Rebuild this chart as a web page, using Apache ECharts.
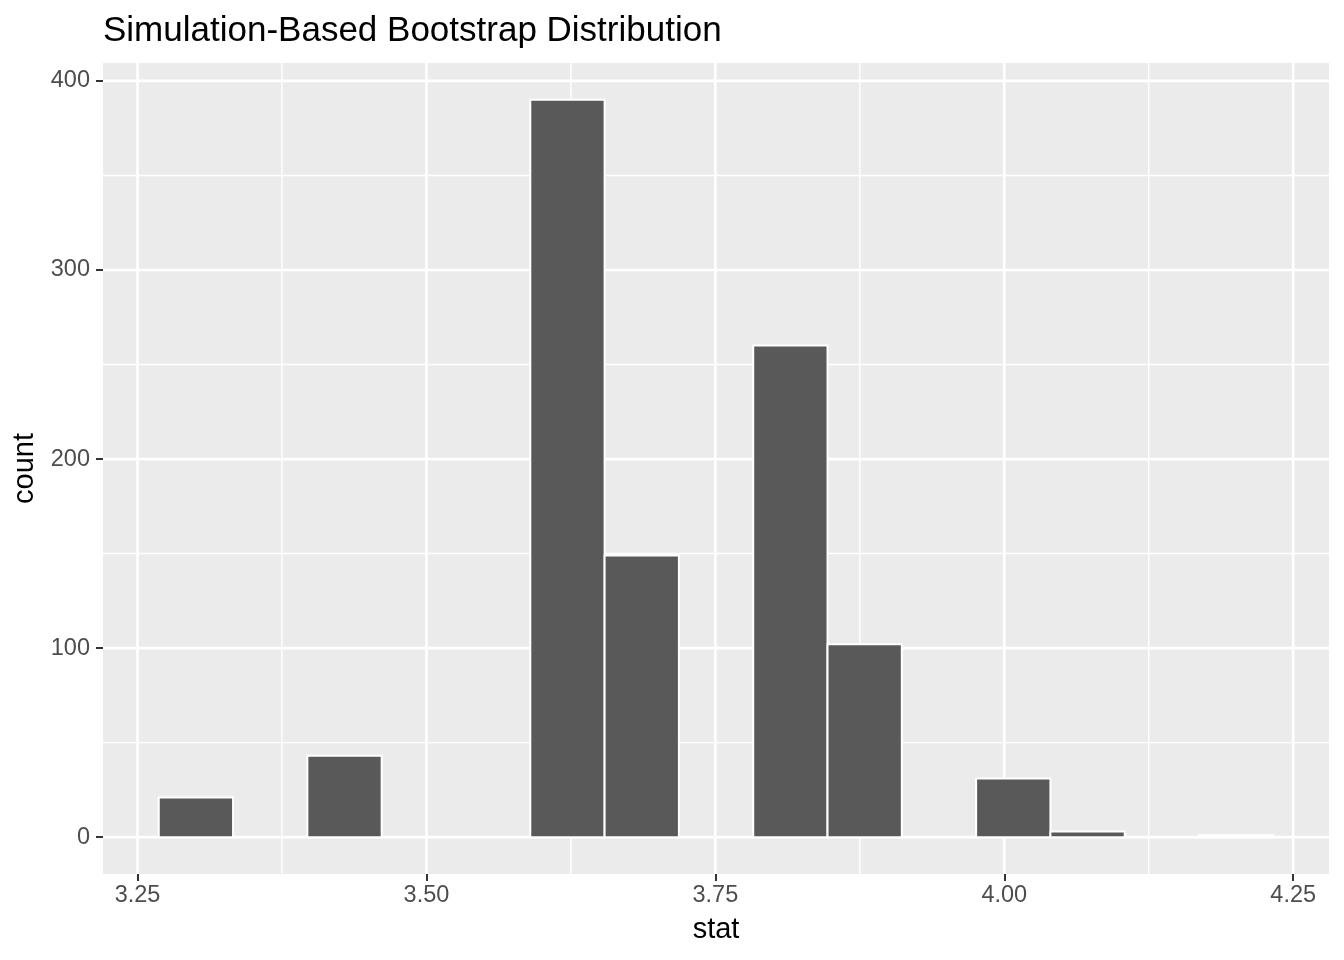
<!DOCTYPE html>
<html>
<head>
<meta charset="utf-8">
<script src="https://cdn.jsdelivr.net/npm/echarts@6/dist/echarts.min.js"></script>
<style>
  html, body { margin: 0; padding: 0; background: #ffffff; }
  #chart { width: 1344px; height: 960px; }
</style>
</head>
<body>
<div id="chart"></div>
<script>
// ---- data ----
const binCenters = [3.3005, 3.3648, 3.4291, 3.4934, 3.5577, 3.6220, 3.6863, 3.7506,
                    3.8149, 3.8792, 3.9435, 4.0078, 4.0721, 4.1364, 4.2007];
const counts     = [21, 0, 43, 0, 0, 390, 149, 0, 260, 102, 0, 31, 3, 0, 1];
const binWidth   = 0.0643;

const xTicks      = [3.25, 3.5, 3.75, 4.0, 4.25];
const xMinorGrid  = [3.375, 3.625, 3.875, 4.125];
const yTicks      = [0, 100, 200, 300, 400];
const yMinorGrid  = [50, 150, 250, 350];

const xRange = [3.2201, 4.2810];
const yRange = [-19.5, 409.5];

const titleText = 'Simulation-Based Bootstrap Distribution';
const xTitle = 'stat';
const yTitle = 'count';

// ---- chart ----
const FONT = '"Liberation Sans", Arial, Helvetica, sans-serif';
const chart = echarts.init(document.getElementById('chart'), null, { renderer: 'canvas' });

function gridLines(values, dir, width) {
  return {
    type: 'custom',
    silent: true,
    data: values.map(v => [v]),
    renderItem: function (params, api) {
      const cs = params.coordSys;
      const v = api.value(0);
      let shape;
      if (dir === 'x') {
        const px = api.coord([v, yRange[0]])[0];
        shape = { x1: px, y1: cs.y, x2: px, y2: cs.y + cs.height };
      } else {
        const py = api.coord([xRange[0], v])[1];
        shape = { x1: cs.x, y1: py, x2: cs.x + cs.width, y2: py };
      }
      return { type: 'line', shape: shape, style: { stroke: '#FFFFFF', lineWidth: width } };
    },
    z: 1
  };
}

const bars = binCenters.map((c, i) => [c, counts[i]]);

const option = {
  animation: false,
  backgroundColor: '#FFFFFF',
  title: {
    text: titleText,
    left: 98,
    top: 9,
    textStyle: { fontFamily: FONT, fontSize: 35, fontWeight: 'normal', color: '#000000' }
  },
  grid: {
    left: 103, right: 15, top: 63, bottom: 86,
    show: true, backgroundColor: '#EBEBEB', borderWidth: 0
  },
  xAxis: {
    type: 'value',
    min: xRange[0], max: xRange[1],
    axisLine: { show: false, onZero: false },
    splitLine: { show: false },
    axisTick: { show: true, length: 7, lineStyle: { color: '#333333', width: 2 }, customValues: xTicks },
    axisLabel: {
      customValues: xTicks,
      color: '#4D4D4D', fontFamily: FONT, fontSize: 23.5, margin: 10,
      formatter: v => v.toFixed(2)
    },
    name: xTitle,
    nameLocation: 'middle',
    nameGap: 41,
    nameTextStyle: { fontFamily: FONT, fontSize: 29, color: '#000000' }
  },
  yAxis: {
    type: 'value',
    min: yRange[0], max: yRange[1],
    axisLine: { show: false, onZero: false },
    splitLine: { show: false },
    axisTick: { show: true, length: 7, lineStyle: { color: '#333333', width: 2 }, customValues: yTicks },
    axisLabel: {
      customValues: yTicks,
      color: '#4D4D4D', fontFamily: FONT, fontSize: 23.5, margin: 13,
      formatter: v => String(Math.round(v))
    },
    name: yTitle,
    nameLocation: 'middle',
    nameRotate: 90,
    nameGap: 62,
    nameTextStyle: { fontFamily: FONT, fontSize: 29, color: '#000000' }
  },
  series: [
    gridLines(xMinorGrid, 'x', 1.4),
    gridLines(yMinorGrid, 'y', 1.4),
    gridLines(xTicks, 'x', 2.7),
    gridLines(yTicks, 'y', 2.7),
    {
      type: 'custom',
      silent: true,
      data: bars,
      z: 3,
      renderItem: function (params, api) {
        const c = api.value(0);
        const n = api.value(1);
        const p0 = api.coord([c - binWidth / 2, n]);
        const p1 = api.coord([c + binWidth / 2, 0]);
        return {
          type: 'rect',
          shape: { x: p0[0], y: p0[1], width: p1[0] - p0[0], height: p1[1] - p0[1] },
          style: { fill: '#595959', stroke: '#FFFFFF', lineWidth: 2 }
        };
      }
    }
  ]
};
chart.setOption(option);
</script>
</body>
</html>
